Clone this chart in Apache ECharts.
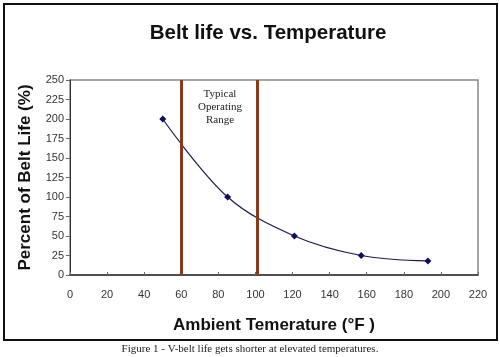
<!DOCTYPE html>
<html><head><meta charset="utf-8">
<script src="https://cdn.jsdelivr.net/npm/echarts@6/dist/echarts.min.js"></script>
<style>html,body{margin:0;padding:0;background:#fff}#c{width:500px;height:357px}</style>
</head><body><div id="c"></div>
<script>
const temps = [50, 85, 121, 157, 193];
const beltLife = [200, 100, 50, 25, 18];
const rangeLines = [60, 101];
const xTicks = [0,20,40,60,80,100,120,140,160,180,200,220];
const yTicks = [0,25,50,75,100,125,150,175,200,225,250];

const chart = echarts.init(document.getElementById('c'));
chart.setOption({
  backgroundColor: '#fff',
  animation: false,
  title: {
    text: 'Belt life vs. Temperature', left: 263, top: 18, textAlign: 'center',
    textStyle: {fontFamily: 'Liberation Sans, Arial', fontSize: 20.5, fontWeight: 'bold', color: '#111'}
  },
  grid: {left: 70, right: 22, top: 80, bottom: 82, show: true, borderColor: '#888', borderWidth: 1.5, backgroundColor: 'transparent'},
  xAxis: {
    type: 'value', min: 0, max: 220, interval: 20,
    name: 'Ambient Temerature (°F )', nameLocation: 'middle', nameGap: 42,
    nameTextStyle: {fontFamily: 'Liberation Sans, Arial', fontSize: 17, fontWeight: 'bold', color: '#111'},
    axisLine: {lineStyle: {color: '#333', width: 1.5}},
    axisTick: {inside: true, length: 3, lineStyle: {color: '#666'}},
    axisLabel: {fontFamily: 'Liberation Sans, Arial', fontSize: 11, color: '#333', margin: 14},
    splitLine: {show: false}
  },
  yAxis: {
    type: 'value', min: 0, max: 250, interval: 25,
    name: 'Percent of Belt Life (%)', nameLocation: 'middle', nameGap: 36,
    nameTextStyle: {fontFamily: 'Liberation Sans, Arial', fontSize: 17, fontWeight: 'bold', color: '#111'},
    axisLine: {show: true, lineStyle: {color: '#333', width: 1}},
    axisTick: {show: true, length: 4, lineStyle: {color: '#666'}},
    axisLabel: {fontFamily: 'Liberation Sans, Arial', fontSize: 11, color: '#333', margin: 6},
    splitLine: {show: false}
  },
  series: [{
    type: 'line',
    data: temps.map((t, i) => [t, beltLife[i]]),
    smooth: 0.35,
    symbol: 'diamond', symbolSize: 7,
    itemStyle: {color: '#10105a'},
    lineStyle: {color: '#1c1c50', width: 1.2},
    markLine: {
      silent: true, symbol: 'none',
      label: {show: false},
      lineStyle: {color: '#8a3a1c', width: 3, type: 'solid'},
      data: rangeLines.map(v => ({xAxis: v}))
    }
  }],
  graphic: [
    {type: 'rect', shape: {x: 4, y: 4, width: 493, height: 336}, style: {fill: 'none', stroke: '#111', lineWidth: 2}, silent: true},
    {type: 'text', style: {text: 'Typical\nOperating\nRange', x: 220, y: 88, textAlign: 'center', font: '11px "Liberation Serif", "Times New Roman", serif', fill: '#222', lineHeight: 13}},
    {type: 'text', style: {text: 'Figure 1 - V-belt life gets shorter at elevated temperatures.', x: 250, y: 344, textAlign: 'center', font: '11px "Liberation Serif", "Times New Roman", serif', fill: '#222'}}
  ]
});
</script></body></html>
